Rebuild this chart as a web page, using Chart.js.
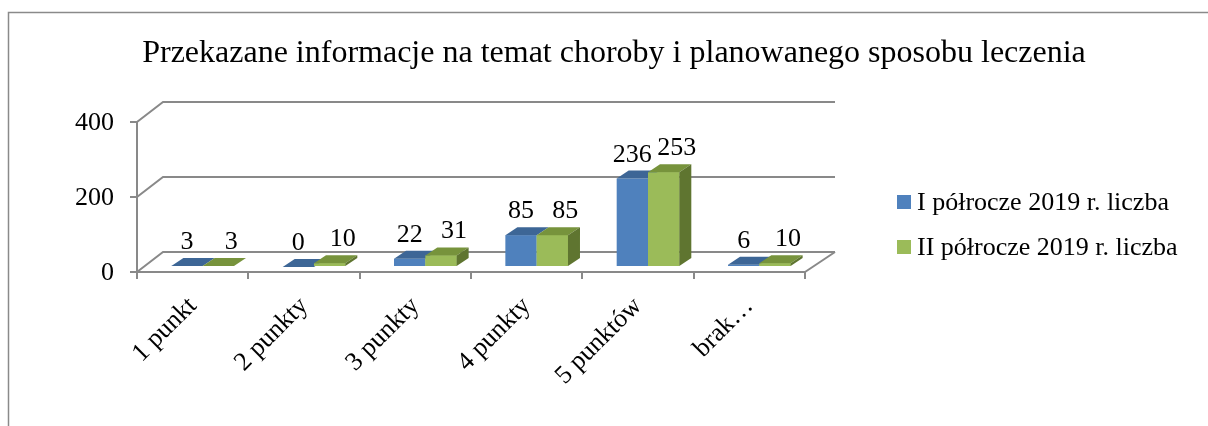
<!DOCTYPE html>
<html lang="pl">
<head>
  <meta charset="UTF-8" />
  <title>Przekazane informacje na temat choroby</title>
  <script src="https://cdn.jsdelivr.net/npm/chart.js"></script>
  <style>
    html, body { margin: 0; padding: 0; background: #fff; }
  </style>
</head>
<body>
  <canvas id="wykres" width="1208" height="426"></canvas>

  <script>
    const tytul = 'Przekazane informacje na temat choroby i planowanego sposobu leczenia';
    const kategorie = ['1 punkt', '2 punkty', '3 punkty', '4 punkty', '5 punktów', 'brak…'];
    const nazwySerii = ['I półrocze 2019 r. liczba', 'II półrocze 2019 r. liczba'];
    const polrocze1 = [3, 0, 22, 85, 236, 6];
    const polrocze2 = [3, 10, 31, 85, 253, 10];
    const osY = [0, 200, 400];

    const czcionka = '"Liberation Serif", "Times New Roman", serif';
    const kolorLinii = '#898989';

    // przesuniecia "3D"
    const GLEB_XL = 26, GLEB_XP = 30, GLEB_Y = -20;   // sciany (lewa / prawa strona)
    const SLUP_X = 10, SLUP_Y = -5;                  // slupki lekko w glebi
    const WIECZ_X = 12, WIECZ_Y = -8;                // gora i bok slupka
    const sciany = [
      { gora: '#3d6696', bok: '#385d8a', etykietaX: 0 },
      { gora: '#77933c', bok: '#5f7530', etykietaX: 13 }
    ];

    function scianki(ctx, bar, kol, zBokiem) {
      const { x, y, base, width } = bar.getProps(['x', 'y', 'base', 'width'], true);
      const l = x - width / 2, r = x + width / 2;
      ctx.fillStyle = kol.gora;
      ctx.beginPath();
      ctx.moveTo(l, y);
      ctx.lineTo(l + WIECZ_X, y + WIECZ_Y);
      ctx.lineTo(r + WIECZ_X, y + WIECZ_Y);
      ctx.lineTo(r, y);
      ctx.closePath();
      ctx.fill();
      if (!zBokiem) return;
      ctx.fillStyle = kol.bok;
      ctx.beginPath();
      ctx.moveTo(r, y);
      ctx.lineTo(r + WIECZ_X, y + WIECZ_Y);
      ctx.lineTo(r + WIECZ_X, base + WIECZ_Y);
      ctx.lineTo(r, base);
      ctx.closePath();
      ctx.fill();
    }

    const efekt3d = {
      id: 'efekt3d',
      beforeDraw(chart) {
        const ctx = chart.ctx;
        const { left, right } = chart.chartArea;
        const y = chart.scales.y;
        ctx.save();
        // ramka wykresu
        ctx.strokeStyle = '#8a8a8a';
        ctx.lineWidth = 1.5;
        ctx.beginPath();
        ctx.moveTo(8.5, 426);
        ctx.lineTo(8.5, 12.5);
        ctx.lineTo(1208, 12.5);
        ctx.stroke();
        // tytul
        ctx.fillStyle = '#000';
        ctx.font = '32px ' + czcionka;
        ctx.textAlign = 'center';
        ctx.textBaseline = 'alphabetic';
        ctx.fillText(tytul, 614, 62);
        // opisy osi Y
        ctx.font = '26px ' + czcionka;
        ctx.textAlign = 'right';
        ctx.textBaseline = 'middle';
        y.ticks.forEach(t => {
          ctx.fillText(String(t.value), left - 23, y.getPixelForValue(t.value) + 1);
        });
        // sciany: lewa i tylna
        ctx.strokeStyle = kolorLinii;
        ctx.lineWidth = 2;
        osY.forEach(v => {
          const py = y.getPixelForValue(v);
          ctx.beginPath();
          ctx.moveTo(left, py);
          ctx.lineTo(left + GLEB_XL, py + GLEB_Y);
          ctx.lineTo(right + GLEB_XP, py + GLEB_Y);
          ctx.stroke();
        });
        const p0 = y.getPixelForValue(0);
        ctx.beginPath();
        ctx.moveTo(right, p0);
        ctx.lineTo(right + GLEB_XP, p0 + GLEB_Y);
        ctx.stroke();
        ctx.restore();
      },
      beforeDatasetsDraw(chart) {
        chart.ctx.save();
        chart.ctx.translate(SLUP_X, SLUP_Y);
      },
      afterDatasetsDraw(chart) {
        const ctx = chart.ctx;
        // seria I: gora (bok zasloni seria II), seria II: jeszcze raz przod + gora + bok
        chart.getDatasetMeta(0).data.forEach(bar => scianki(ctx, bar, sciany[0], false));
        chart.getDatasetMeta(1).data.forEach(bar => {
          bar.draw(ctx);
          scianki(ctx, bar, sciany[1], true);
        });
        ctx.fillStyle = '#000';
        ctx.font = '26px ' + czcionka;
        ctx.textAlign = 'center';
        ctx.textBaseline = 'alphabetic';
        chart.data.datasets.forEach((ds, i) => {
          chart.getDatasetMeta(i).data.forEach((bar, j) => {
            ctx.fillText(String(ds.data[j]), bar.x + sciany[i].etykietaX, bar.y + WIECZ_Y - 9);
          });
        });
        ctx.restore();
      },
      afterDraw(chart) {
        // legenda
        const ctx = chart.ctx;
        ctx.save();
        ctx.font = '26px ' + czcionka;
        ctx.textBaseline = 'middle';
        ctx.textAlign = 'left';
        chart.data.datasets.forEach((ds, i) => {
          const cy = 202 + i * 45;
          ctx.fillStyle = ds.backgroundColor;
          ctx.fillRect(897, cy - 7, 14, 14);
          ctx.fillStyle = '#000';
          ctx.fillText(ds.label, 917, cy + 1);
        });
        ctx.restore();
      }
    };

    new Chart(document.getElementById('wykres'), {
      type: 'bar',
      data: {
        labels: kategorie,
        datasets: [
          { label: nazwySerii[0], data: polrocze1, backgroundColor: '#4f81bd' },
          { label: nazwySerii[1], data: polrocze2, backgroundColor: '#9bbb59' }
        ]
      },
      options: {
        responsive: false,
        animation: false,
        devicePixelRatio: 1,
        layout: { padding: { left: 20, top: 122, right: 403, bottom: 0 } },
        datasets: {
          bar: { categoryPercentage: 0.5625, barPercentage: 1, clip: false }
        },
        plugins: {
          legend: { display: false },
          title: { display: false },
          tooltip: { enabled: false }
        },
        scales: {
          x: {
            grid: { drawOnChartArea: false, tickLength: 7, color: kolorLinii, lineWidth: 2, offset: true },
            border: { color: kolorLinii, width: 2 },
            ticks: {
              font: { family: czcionka, size: 26 }, color: '#000',
              minRotation: 45, maxRotation: 45, autoSkip: false, padding: 12
            },
            afterFit: s => { s.height = 154; }
          },
          y: {
            min: osY[0], max: osY[osY.length - 1],
            grid: { drawOnChartArea: false, tickLength: 7, color: kolorLinii, lineWidth: 2 },
            border: { color: kolorLinii, width: 2 },
            ticks: { stepSize: osY[1] - osY[0], display: false },
            afterFit: s => { s.width = 117; }
          }
        }
      },
      plugins: [efekt3d]
    });
  </script>
</body>
</html>
